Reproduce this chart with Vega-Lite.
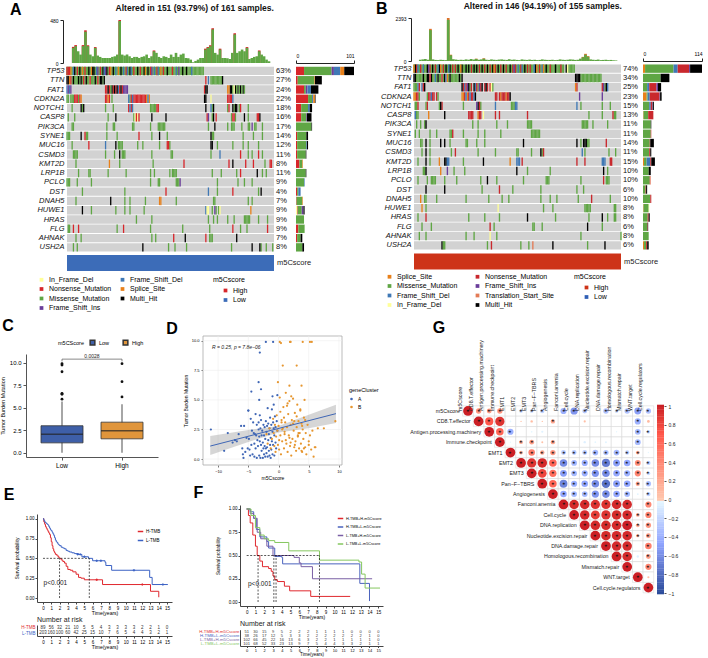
{"$schema":"https://vega.github.io/schema/vega-lite/v6.json","width":708,"height":658,"padding":0,"background":"white",
"config":{"font":"Liberation Sans","view":{"stroke":null},"axis":{"grid":false}},
"resolve":{"scale":{"x":"independent","y":"independent","color":"independent","size":"independent"},"axis":{"x":"independent","y":"independent"}},
"datasets":{
"genesA":[{"g":"TP53","a":0,"b":161,"p":"63%"},{"g":"TTN","a":0,"b":161,"p":"27%"},{"g":"FAT1","a":0,"b":161,"p":"24%"},{"g":"CDKN2A","a":0,"b":161,"p":"22%"},{"g":"NOTCH1","a":0,"b":161,"p":"18%"},{"g":"CASP8","a":0,"b":161,"p":"16%"},{"g":"PIK3CA","a":0,"b":161,"p":"17%"},{"g":"SYNE1","a":0,"b":161,"p":"14%"},{"g":"MUC16","a":0,"b":161,"p":"12%"},{"g":"CSMD3","a":0,"b":161,"p":"11%"},{"g":"KMT2D","a":0,"b":161,"p":"8%"},{"g":"LRP1B","a":0,"b":161,"p":"11%"},{"g":"PCLO","a":0,"b":161,"p":"9%"},{"g":"DST","a":0,"b":161,"p":"4%"},{"g":"DNAH5","a":0,"b":161,"p":"7%"},{"g":"HUWE1","a":0,"b":161,"p":"9%"},{"g":"HRAS","a":0,"b":161,"p":"9%"},{"g":"FLG","a":0,"b":161,"p":"9%"},{"g":"AHNAK","a":0,"b":161,"p":"7%"},{"g":"USH2A","a":0,"b":161,"p":"8%"}],
"genesB":[{"g":"TP53","a":0,"b":155,"p":"74%"},{"g":"TTN","a":0,"b":155,"p":"34%"},{"g":"FAT1","a":0,"b":155,"p":"25%"},{"g":"CDKN2A","a":0,"b":155,"p":"23%"},{"g":"NOTCH1","a":0,"b":155,"p":"15%"},{"g":"CASP8","a":0,"b":155,"p":"13%"},{"g":"PIK3CA","a":0,"b":155,"p":"11%"},{"g":"SYNE1","a":0,"b":155,"p":"11%"},{"g":"MUC16","a":0,"b":155,"p":"14%"},{"g":"CSMD3","a":0,"b":155,"p":"11%"},{"g":"KMT2D","a":0,"b":155,"p":"15%"},{"g":"LRP1B","a":0,"b":155,"p":"10%"},{"g":"PCLO","a":0,"b":155,"p":"10%"},{"g":"DST","a":0,"b":155,"p":"6%"},{"g":"DNAH5","a":0,"b":155,"p":"10%"},{"g":"HUWE1","a":0,"b":155,"p":"8%"},{"g":"HRAS","a":0,"b":155,"p":"8%"},{"g":"FLG","a":0,"b":155,"p":"6%"},{"g":"AHNAK","a":0,"b":155,"p":"8%"},{"g":"USH2A","a":0,"b":155,"p":"6%"}],
"oncoA":[
{"g":"TP53","t":"Missense_Mutation","s":[0,1,2,3,4,5,6,7,8,9,10,11,12,13,14,15,16,17,18,19,20,21,22,23,24,25,26,27,28,29,30,31,32,33,34,35,36,37,38,39,40,41,42,43,44,45,46,47,48,49,50,51,52,53,54,55,56,57,58,59,60,61,62,63,64,65,66,67,68,69,70,71,72,73,74,75,76,77,78,79,80,81,82,83,84,85,86,87,88,89,90,91,92,93,94,95,96,97,98,99,100,101,102,103,104,105,106]},
{"g":"TP53","t":"Nonsense_Mutation","s":[0,1,2,8,14,26,33,46,52,57,65,70,75,82]},
{"g":"TP53","t":"Multi_Hit","s":[6,10,17,20,21,28,31,36,42,49,55,60,63,78,90,93]},
{"g":"TP53","t":"Frame_Shift_Del","s":[5,23,29,38,44,47,50,68,71,85,97]},
{"g":"TP53","t":"Splice_Site","s":[3,12,19,34,40,61,73]},
{"g":"TP53","t":"Frame_Shift_Ins","s":[24,30,66,87]},
{"g":"TTN","t":"Missense_Mutation","s":[4,6,7,8,10,12,14,16,17,19,20,21,23,25,28,112,113,114,115,116,117,118,119,120]},
{"g":"TTN","t":"Nonsense_Mutation","s":[3,13,18,24,108]},
{"g":"TTN","t":"Multi_Hit","s":[0,1,5,9,11,15,22,26,27,29,121]},
{"g":"TTN","t":"Splice_Site","s":[2]},
{"g":"TTN","t":"Frame_Shift_Del","s":[110]},
{"g":"FAT1","t":"Frame_Shift_Del","s":[0,2,40]},
{"g":"FAT1","t":"Frame_Shift_Ins","s":[1,3,44,45,46,47]},
{"g":"FAT1","t":"Nonsense_Mutation","s":[30,31,33,36,38,41,43,107]},
{"g":"FAT1","t":"Multi_Hit","s":[32,35,37,39,42,108,109,127,128,131,133,135,137]},
{"g":"FAT1","t":"Missense_Mutation","s":[34,129,132,134,136,138]},
{"g":"FAT1","t":"Splice_Site","s":[125,126]},
{"g":"FAT1","t":"In_Frame_Del","s":[130]},
{"g":"CDKN2A","t":"Missense_Mutation","s":[0,1,3,4,5,9,35,49]},
{"g":"CDKN2A","t":"Nonsense_Mutation","s":[6,7,8,10,30,31,33,50,52,53,54,55,56,57,58,59,60,61,125,126,127,128]},
{"g":"CDKN2A","t":"Splice_Site","s":[11,32,62,64]},
{"g":"CDKN2A","t":"Frame_Shift_Del","s":[48,51,63,129]},
{"g":"CDKN2A","t":"Multi_Hit","s":[107,108]},
{"g":"CDKN2A","t":"In_Frame_Del","s":[112]},
{"g":"NOTCH1","t":"Missense_Mutation","s":[4,12,30,36,65,66,67,68,69,113,125,130,134,141]},
{"g":"NOTCH1","t":"Multi_Hit","s":[11,13,108,114,129,131,132]},
{"g":"NOTCH1","t":"Nonsense_Mutation","s":[48,50,70,71,126,135]},
{"g":"NOTCH1","t":"Frame_Shift_Del","s":[49,51,112]},
{"g":"CASP8","t":"Missense_Mutation","s":[1,6,32,52,113,128,131,141]},
{"g":"CASP8","t":"Multi_Hit","s":[38,66,77,114,138,150]},
{"g":"CASP8","t":"In_Frame_Del","s":[53,55]},
{"g":"CASP8","t":"Nonsense_Mutation","s":[54,56,109,116,129,130,148,149]},
{"g":"CASP8","t":"Frame_Shift_Ins","s":[110]},
{"g":"PIK3CA","t":"Missense_Mutation","s":[4,5,31,36,37,51,52,65,71,72,73,74,75,76,110,125,128,129,130,136,141,142,146,147,152]},
{"g":"PIK3CA","t":"Multi_Hit","s":[115]},
{"g":"PIK3CA","t":"Frame_Shift_Ins","s":[144]},
{"g":"SYNE1","t":"Missense_Mutation","s":[0,1,2,15,16,31,39,66,78,113,114,137,145,152]},
{"g":"SYNE1","t":"Multi_Hit","s":[11,72,112]},
{"g":"SYNE1","t":"Nonsense_Mutation","s":[14,56]},
{"g":"MUC16","t":"Missense_Mutation","s":[4,40,41,42,43,55,59,72,80,117,129,137,141,149]},
{"g":"MUC16","t":"Nonsense_Mutation","s":[17,78,79]},
{"g":"MUC16","t":"Frame_Shift_Del","s":[30]},
{"g":"MUC16","t":"Multi_Hit","s":[38,112,113]},
{"g":"CSMD3","t":"Missense_Mutation","s":[5,6,7,8,30,37,43,44,45,66,81,82,112,141,144,152]},
{"g":"CSMD3","t":"Multi_Hit","s":[41]},
{"g":"CSMD3","t":"Frame_Shift_Del","s":[119]},
{"g":"CSMD3","t":"Nonsense_Mutation","s":[135,149]},
{"g":"KMT2D","t":"Missense_Mutation","s":[7,41,67,154]},
{"g":"KMT2D","t":"Splice_Site","s":[33]},
{"g":"KMT2D","t":"Nonsense_Mutation","s":[91,126,139,145,158,159]},
{"g":"KMT2D","t":"Multi_Hit","s":[129]},
{"g":"LRP1B","t":"Missense_Mutation","s":[9,17,18,32,46,65,68,80,82,83,84,85,113,120,132,152,155]},
{"g":"LRP1B","t":"Nonsense_Mutation","s":[135]},
{"g":"LRP1B","t":"Multi_Hit","s":[148]},
{"g":"PCLO","t":"Missense_Mutation","s":[0,1,2,8,19,65,71,72,85,86,87,117,133,138,144]},
{"g":"PCLO","t":"Frame_Shift_Ins","s":[88]},
{"g":"DST","t":"Missense_Mutation","s":[12,45,117,149]},
{"g":"DST","t":"Nonsense_Mutation","s":[77,129]},
{"g":"DST","t":"Frame_Shift_Del","s":[110]},
{"g":"DST","t":"Multi_Hit","s":[151]},
{"g":"DNAH5","t":"Missense_Mutation","s":[7,45,49,61,85,114,115,141,144]},
{"g":"DNAH5","t":"Multi_Hit","s":[34]},
{"g":"DNAH5","t":"Splice_Site","s":[72,73]},
{"g":"HUWE1","t":"Multi_Hit","s":[12]},
{"g":"HUWE1","t":"Missense_Mutation","s":[19,38,45,49,60,113,116,118]},
{"g":"HUWE1","t":"Frame_Shift_Del","s":[108]},
{"g":"HUWE1","t":"In_Frame_Del","s":[109,110,119]},
{"g":"HUWE1","t":"Frame_Shift_Ins","s":[115]},
{"g":"HUWE1","t":"Splice_Site","s":[143]},
{"g":"HRAS","t":"Missense_Mutation","s":[54,66,110,114,117,125,130,138,139,140,141,142,149,156]},
{"g":"FLG","t":"Missense_Mutation","s":[1,2,39,65,90,111,135,140]},
{"g":"FLG","t":"Nonsense_Mutation","s":[5,9,44,129,156]},
{"g":"AHNAK","t":"Missense_Mutation","s":[7,11,66,69,111,112,113]},
{"g":"AHNAK","t":"Nonsense_Mutation","s":[83,108]},
{"g":"AHNAK","t":"Multi_Hit","s":[92,132]},
{"g":"USH2A","t":"Missense_Mutation","s":[5,8,79,84,93,128,151,155,160]},
{"g":"USH2A","t":"Multi_Hit","s":[59,144,150]}
],
"barsA":[
{"g":"TP53","t":[2,3,4,5,6,7],"n":[14,48,4,11,7,17]},
{"g":"TTN","t":[2,3,6,7],"n":[3,29,1,12]},
{"g":"FAT1","t":[2,3,4,5,7],"n":[14,3,3,6,13]},
{"g":"CDKN2A","t":[2,3,5,6,7],"n":[21,7,2,3,1]},
{"g":"NOTCH1","t":[2,3,5,7],"n":[9,12,3,4]},
{"g":"CASP8","t":[2,3,4,7],"n":[9,9,1,8]},
{"g":"PIK3CA","t":[3,7],"n":[27,1]},
{"g":"SYNE1","t":[2,3,7],"n":[2,16,3]},
{"g":"MUC16","t":[2,3,5,7],"n":[2,16,1,2]},
{"g":"CSMD3","t":[2,3,7],"n":[2,15,1]},
{"g":"KMT2D","t":[2,3,6],"n":[6,5,1]},
{"g":"LRP1B","t":[3,7],"n":[17,1]},
{"g":"PCLO","t":[3,5],"n":[14,1]},
{"g":"DST","t":[2,3,5],"n":[2,2,4]},
{"g":"DNAH5","t":[2,3,6],"n":[1,10,1]},
{"g":"HUWE1","t":[1,2,3,4,7],"n":[2,1,7,3,2]},
{"g":"HRAS","t":[3],"n":[14]},
{"g":"FLG","t":[2,3],"n":[4,11]},
{"g":"AHNAK","t":[2,3,7],"n":[2,6,3]},
{"g":"USH2A","t":[3,7],"n":[11,3]}
],
"oncoB":[
{"g":"TP53","t":"Missense_Mutation","s":[0,1,2,3,4,5,6,7,8,9,10,11,12,13,14,15,16,17,18,19,20,21,22,23,24,25,26,27,28,29,30,31,32,33,34,35,36,37,38,39,40,41,42,43,44,45,46,47,48,49,50,51,52,53,54,55,56,57,58,59,60,61,62,63,64,65,66,67,68,69,70,71,72,73,74,75,76,77,78,79,80,81,82,83,84,85,86,87,88,89,90,91,92,93,94,95,96,97,98,99,100,101,102,103,104,105,106,107,108,109,110,111,112,116,117,118,119,120]},
{"g":"TP53","t":"Multi_Hit","s":[1,10,14,19,24,27,33,36,39,41,45,47,51,55,59,63,67,72,83,91,99,106,114]},
{"g":"TP53","t":"Nonsense_Mutation","s":[2,5,12,16,22,29,31,43,49,53,57,61,65,69,74,76,80,85,87,94,102,110]},
{"g":"TP53","t":"Frame_Shift_Del","s":[3,7,18,26,78,81,90,96]},
{"g":"TP53","t":"Splice_Site","s":[0,20,35,60,92,97]},
{"g":"TP53","t":"Frame_Shift_Ins","s":[11,75]},
{"g":"TP53","t":"In_Frame_Del","s":[115]},
{"g":"TTN","t":"Missense_Mutation","s":[2,3,4,5,6,8,9,14,15,17,19,20,22,26,28,29,30,31,32,33,35,125,126,127,128,129,130,131,132,133,134,135,136,137,138,139,140]},
{"g":"TTN","t":"Multi_Hit","s":[0,1,7,10,11,13,18,23,27,34,36,121,122,123,124]},
{"g":"TTN","t":"Nonsense_Mutation","s":[12,21]},
{"g":"TTN","t":"Frame_Shift_Del","s":[16,24]},
{"g":"TTN","t":"Splice_Site","s":[25]},
{"g":"FAT1","t":"Missense_Mutation","s":[0,1,2,42,48,59,143]},
{"g":"FAT1","t":"Frame_Shift_Del","s":[3,6,38,46,145]},
{"g":"FAT1","t":"Nonsense_Mutation","s":[4,7,37,39,43,47,50,53,55,57,122,141]},
{"g":"FAT1","t":"Multi_Hit","s":[8,36,41,45,51,54,144]},
{"g":"FAT1","t":"Frame_Shift_Ins","s":[40,49,142]},
{"g":"FAT1","t":"In_Frame_Del","s":[58]},
{"g":"FAT1","t":"Splice_Site","s":[121]},
{"g":"CDKN2A","t":"Splice_Site","s":[0,1,36,37,40,65,69]},
{"g":"CDKN2A","t":"Nonsense_Mutation","s":[2,3,11,12,14,15,17,38,41,43,44,61,62,64,66,67,68,70,71]},
{"g":"CDKN2A","t":"Missense_Mutation","s":[4,10,18]},
{"g":"CDKN2A","t":"Frame_Shift_Del","s":[13,39,42,45]},
{"g":"CDKN2A","t":"Frame_Shift_Ins","s":[124,141]},
{"g":"CDKN2A","t":"Multi_Hit","s":[46,72]},
{"g":"NOTCH1","t":"Missense_Mutation","s":[1,2,9,19,37,50,73,74,75,125,141,147]},
{"g":"NOTCH1","t":"Nonsense_Mutation","s":[3,10,21,49]},
{"g":"NOTCH1","t":"Multi_Hit","s":[20,48]},
{"g":"NOTCH1","t":"Frame_Shift_Ins","s":[47]},
{"g":"NOTCH1","t":"Frame_Shift_Del","s":[61,76,77,122]},
{"g":"CASP8","t":"Frame_Shift_Del","s":[1]},
{"g":"CASP8","t":"Missense_Mutation","s":[2,3,131,141,150,151]},
{"g":"CASP8","t":"Splice_Site","s":[11,48]},
{"g":"CASP8","t":"Multi_Hit","s":[23]},
{"g":"CASP8","t":"Nonsense_Mutation","s":[41,42,43,44,49,50,61,64,85,149]},
{"g":"CASP8","t":"In_Frame_Del","s":[52]},
{"g":"PIK3CA","t":"Missense_Mutation","s":[2,5,8,44,48,62,70,85,86,87,88,126,127,128,129,130,134,145]},
{"g":"PIK3CA","t":"Multi_Hit","s":[9]},
{"g":"SYNE1","t":"Missense_Mutation","s":[1,4,12,17,27,28,37,48,53,65,88,89,90,91,92,93,94]},
{"g":"SYNE1","t":"Nonsense_Mutation","s":[29]},
{"g":"MUC16","t":"Missense_Mutation","s":[5,6,12,27,39,40,47,53,125,130,131]},
{"g":"MUC16","t":"Multi_Hit","s":[9,20,23,82,122,127,128,129]},
{"g":"MUC16","t":"Nonsense_Mutation","s":[144]},
{"g":"CSMD3","t":"Missense_Mutation","s":[6,12,28,48,61,77,78,88,96,128,146,151]},
{"g":"CSMD3","t":"Multi_Hit","s":[9,95]},
{"g":"CSMD3","t":"Nonsense_Mutation","s":[31,97]},
{"g":"CSMD3","t":"Frame_Shift_Del","s":[126]},
{"g":"KMT2D","t":"Missense_Mutation","s":[3,12,37]},
{"g":"KMT2D","t":"Multi_Hit","s":[9,23,24,52]},
{"g":"KMT2D","t":"Splice_Site","s":[19,72]},
{"g":"KMT2D","t":"Frame_Shift_Del","s":[25,26,77,78,79,141,142,143]},
{"g":"KMT2D","t":"Nonsense_Mutation","s":[81,122,128,147,148]},
{"g":"LRP1B","t":"Missense_Mutation","s":[7,8,30,38,85,102,145]},
{"g":"LRP1B","t":"Multi_Hit","s":[9,77,142]},
{"g":"LRP1B","t":"Splice_Site","s":[20]},
{"g":"LRP1B","t":"Frame_Shift_Ins","s":[25]},
{"g":"PCLO","t":"Missense_Mutation","s":[3,10,13,14,15,16,23,32,50,62,82,99,100,101,125,144,145,146]},
{"g":"PCLO","t":"Multi_Hit","s":[55]},
{"g":"PCLO","t":"Nonsense_Mutation","s":[142]},
{"g":"DST","t":"Multi_Hit","s":[9,23]},
{"g":"DST","t":"Missense_Mutation","s":[51,74,95,122,127]},
{"g":"DST","t":"Nonsense_Mutation","s":[64]},
{"g":"DNAH5","t":"Splice_Site","s":[5]},
{"g":"DNAH5","t":"Missense_Mutation","s":[8,9,17,39,56,66,71,95,102,107,123,147]},
{"g":"DNAH5","t":"Nonsense_Mutation","s":[133]},
{"g":"HUWE1","t":"Splice_Site","s":[6]},
{"g":"HUWE1","t":"Missense_Mutation","s":[9,97,104,128,129,130,131,132,150,151]},
{"g":"HUWE1","t":"In_Frame_Del","s":[63]},
{"g":"HRAS","t":"Missense_Mutation","s":[3,41,53,64,106,131,145,150,151]},
{"g":"HRAS","t":"Nonsense_Mutation","s":[9]},
{"g":"HRAS","t":"Multi_Hit","s":[85,141]},
{"g":"FLG","t":"Missense_Mutation","s":[6,13,60,89,90,96,141]},
{"g":"FLG","t":"Nonsense_Mutation","s":[57]},
{"g":"FLG","t":"Multi_Hit","s":[130]},
{"g":"AHNAK","t":"Missense_Mutation","s":[4,9,39,45,62,125,155]},
{"g":"AHNAK","t":"In_Frame_Del","s":[57]},
{"g":"USH2A","t":"Multi_Hit","s":[21,104,143]},
{"g":"USH2A","t":"Missense_Mutation","s":[22,23,55,80,86,130]},
{"g":"USH2A","t":"Nonsense_Mutation","s":[58]},
{"g":"USH2A","t":"Translation_Start_Site","s":[89]}
],
"barsB":[
{"g":"TP53","t":[1,2,3,5,6,8],"n":[4,55,8,22,2,23]},
{"g":"TTN","t":[2,8],"n":[34,17]},
{"g":"FAT1","t":[2,3,5,6,8],"n":[8,4,14,3,6]},
{"g":"CDKN2A","t":[1,2,3,5,6,8],"n":[7,2,4,19,1,3]},
{"g":"NOTCH1","t":[2,3,5,6,8],"n":[12,3,3,1,2]},
{"g":"CASP8","t":[1,2,5],"n":[1,9,10]},
{"g":"PIK3CA","t":[2,8],"n":[15,1]},
{"g":"SYNE1","t":[2,5],"n":[15,1]},
{"g":"MUC16","t":[2,5,8],"n":[13,1,7]},
{"g":"CSMD3","t":[2,5,8],"n":[12,2,2]},
{"g":"KMT2D","t":[1,2,3,5,8],"n":[2,5,7,2,7]},
{"g":"LRP1B","t":[2,8],"n":[11,4]},
{"g":"PCLO","t":[2,5,7],"n":[13,1,1]},
{"g":"DST","t":[2,5,8],"n":[5,1,2]},
{"g":"DNAH5","t":[2,5],"n":[14,2]},
{"g":"HUWE1","t":[1,2,4],"n":[1,10,1]},
{"g":"HRAS","t":[2,5,8],"n":[9,2,2]},
{"g":"FLG","t":[2,5,8],"n":[8,1,1]},
{"g":"AHNAK","t":[2],"n":[11]},
{"g":"USH2A","t":[1,2,5,8],"n":[2,4,2,3]}
],
"corr":[
{"r":0,"c":[0,1,2,3,4,5,6,7,8,9,10,11,12,13,14,15,16,17],"v":[1,0.3,0.25,0.3,0,-0.15,-0.15,-0.2,0,-0.4,-0.55,-0.25,0,-0.3,-0.15,-0.3,-0.5,-0.3]},
{"r":1,"c":[1,2,3,4,5,6,7,8,9,10,11,12,13,14,15,16,17],"v":[1,0.7,0.9,-0.03,0.02,0.06,0.02,0.2,0,0,0.05,0,0,0,0,-0.4,0.08]},
{"r":2,"c":[2,3,4,5,6,7,8,9,10,11,12,13,14,15,16,17],"v":[1,0.6,-0.4,0,-0.03,-0.05,0,0,0,0,0,0,-0.02,0,-0.35,-0.15]},
{"r":3,"c":[3,4,5,6,7,8,9,10,11,12,13,14,15,16,17],"v":[1,-0.02,0.15,0.25,0.04,0.2,0,0,-0.06,-0.03,-0.04,0,0,-0.35,0]},
{"r":4,"c":[4,5,6,7,8,9,10,11,12,13,14,15,16,17],"v":[1,0.15,0.45,0.2,0.3,-0.25,-0.25,-0.25,-0.35,-0.3,-0.35,-0.2,0.15,-0.02]},
{"r":5,"c":[5,6,7,8,9,10,11,12,13,14,15,16,17],"v":[1,0.9,0.95,0.6,-0.6,-0.35,-0.4,-0.6,-0.7,-0.5,-0.45,0.35,-0.2]},
{"r":6,"c":[6,7,8,9,10,11,12,13,14,15,16,17],"v":[1,0.8,0.55,-0.5,-0.35,-0.4,-0.55,-0.6,-0.45,-0.4,0.4,-0.15]},
{"r":7,"c":[7,8,9,10,11,12,13,14,15,16,17],"v":[1,0.6,-0.65,-0.4,-0.45,-0.6,-0.75,-0.5,-0.45,0.2,-0.3]},
{"r":8,"c":[8,9,10,11,12,13,14,15,16,17],"v":[1,-0.45,-0.35,-0.35,-0.55,-0.6,-0.45,-0.35,-0.04,-0.2]},
{"r":9,"c":[9,10,11,12,13,14,15,16,17],"v":[1,0.95,0.95,0.9,0.9,0.95,0.95,0,0.4]},
{"r":10,"c":[10,11,12,13,14,15,16,17],"v":[1,0.95,0.85,0.9,0.95,0.95,0.15,0.4]},
{"r":11,"c":[11,12,13,14,15,16,17],"v":[1,0.95,0.95,0.95,1,0.15,0.3]},
{"r":12,"c":[12,13,14,15,16,17],"v":[1,0.95,0.95,0.95,0.12,0.25]},
{"r":13,"c":[13,14,15,16,17],"v":[1,0.95,0.95,0,0.45]},
{"r":14,"c":[14,15,16,17],"v":[1,0.95,-0.06,0.25]},
{"r":15,"c":[15,16,17],"v":[1,0,0.4]},
{"r":16,"c":[16,17],"v":[1,0.05]},
{"r":17,"c":[17],"v":[1]}
],
"corrNames":[{"i":0,"n":"m5Cscore"},{"i":1,"n":"CD8.T.effector"},{"i":2,"n":"Antigen.processing.machinery"},{"i":3,"n":"Immune.checkpoint"},{"i":4,"n":"EMT1"},{"i":5,"n":"EMT2"},{"i":6,"n":"EMT3"},{"i":7,"n":"Pan−F−TBRS"},{"i":8,"n":"Angiogenesis"},{"i":9,"n":"Fanconi.anemia"},{"i":10,"n":"Cell.cycle"},{"i":11,"n":"DNA.replication"},{"i":12,"n":"Nucleotide.excision.repair"},{"i":13,"n":"DNA.damage.repair"},{"i":14,"n":"Homologous.recombination"},{"i":15,"n":"Mismatch.repair"},{"i":16,"n":"WNT.target"},{"i":17,"n":"Cell.cycle.regulators"}]
},
"layer":[
{"layer":[
 {"data":{"values":[{"s":1,"t":180},{"s":3,"t":200},{"s":9,"t":200},{"s":11,"t":365},{"s":13,"t":198},{"s":19,"t":178},{"s":39,"t":480},{"s":67,"t":140},{"s":109,"t":160},{"s":111,"t":178},{"s":113,"t":198},{"s":115,"t":388},{"s":121,"t":160},{"s":133,"t":332},{"s":143,"t":178},{"s":153,"t":140}]},
  "mark":{"type":"bar","size":2.6,"color":"#D7262B"},"encoding":{"x":{"field":"s","type":"quantitative","scale":{"domain":[0,161],"nice":false,"range":[67,274]},"axis":null},"y":{"field":"t","type":"quantitative","scale":{"domain":[0,480],"nice":false,"range":[62,19]},"axis":{"orient":"left","offset":-63,"values":[0,480],"title":null,"labelFontSize":5,"tickSize":3,"domainColor":"#222","tickColor":"#222"}}}},
 {"data":{"values":[{"s":[1,3,5,7,9,11,13,15,17,19,21,23,25,27,29,31,33,35,37,39,41,43,45,47,49,51,53,55,57,59,61,63,65,67,69,71,73,75,77,79,81,83,85,87,89,91,93,95,97,99,101,103,105,107,109,111,113,115,117,119,121,123,125,127,129,131,133,135,137,139,141,143,145,147,149,151,153,155,157,159,161],"v":[169,188,131,94,188,349,188,94,75,169,83,68,56,56,56,56,68,75,94,469,94,83,94,75,56,68,68,56,68,75,94,56,75,131,113,68,56,75,68,56,94,68,113,68,94,105,56,53,38,8,23,38,56,56,150,169,188,375,113,94,150,56,56,53,45,113,319,113,131,150,131,169,45,56,68,75,131,94,75,38,19]}]},
  "transform":[{"flatten":["s","v"]}],
  "mark":{"type":"bar","size":2.6,"color":"#5FA644"},"encoding":{"x":{"field":"s","type":"quantitative"},"y":{"field":"v","type":"quantitative"}}},
 {"data":{"values":[{"l":"Altered in 151 (93.79%) of 161 samples."}]},"mark":{"type":"text","fontSize":8.5,"fontWeight":"bold","color":"#111"},"encoding":{"x":{"datum":100.3},"y":{"datum":614},"text":{"field":"l"}}},
 {"data":{"values":[{"l":"A"}]},"mark":{"type":"text","fontSize":16,"fontWeight":"bold","color":"#000"},"encoding":{"x":{"datum":-45.9},"y":{"datum":592},"text":{"field":"l"}}}
]},
{"layer":[
 {"data":{"name":"genesA"},"mark":{"type":"bar","color":"#D2D2D2"},"encoding":{"y":{"field":"g","type":"nominal","sort":null,"scale":{"range":[65.3,251],"paddingInner":0.1,"paddingOuter":0.05},"axis":{"orient":"left","offset":-67,"title":null,"labelFontStyle":"italic","labelFontSize":7.5,"domain":false,"ticks":false,"labelPadding":3,"labelColor":"#111"}},"x":{"field":"a","type":"quantitative","scale":{"domain":[0,161],"nice":false,"range":[67,274]},"axis":null},"x2":{"field":"b"}}},
 {"data":{"name":"oncoA"},"transform":[{"flatten":["s"]}],"mark":{"type":"tick","thickness":1.3,"size":8.4,"opacity":1},"encoding":{"x":{"field":"s","type":"quantitative"},"y":{"field":"g","type":"nominal","sort":null},"color":{"field":"t","type":"nominal","scale":{"domain":["In_Frame_Del","Nonsense_Mutation","Missense_Mutation","Frame_Shift_Ins","Frame_Shift_Del","Splice_Site","Multi_Hit"],"range":["#FFFF99","#D7262B","#5FA644","#6A3D9A","#3F78B5","#E8801A","#000000"]},"legend":{"orient":"none","legendX":38,"legendY":275,"title":null,"columns":2,"direction":"vertical","symbolType":"square","symbolSize":14,"labelFontSize":7,"labelOffset":4,"rowPadding":1.5,"columnPadding":7,"symbolOpacity":1}}}},
 {"data":{"name":"genesA"},"mark":{"type":"text","align":"left","dx":2,"fontSize":7.5,"color":"#111"},"encoding":{"x":{"field":"b","type":"quantitative"},"y":{"field":"g","type":"nominal","sort":null},"text":{"field":"p"}}}
]},
{"data":{"name":"barsA"},"transform":[{"flatten":["t","n"]}],"mark":{"type":"bar"},"encoding":{"y":{"field":"g","type":"nominal","sort":["TP53","TTN","FAT1","CDKN2A","NOTCH1","CASP8","PIK3CA","SYNE1","MUC16","CSMD3","KMT2D","LRP1B","PCLO","DST","DNAH5","HUWE1","HRAS","FLG","AHNAK","USH2A"],"scale":{"range":[65.3,251],"paddingInner":0.1,"paddingOuter":0.05},"axis":null},"x":{"field":"n","type":"quantitative","stack":"zero","scale":{"domain":[0,101],"nice":false,"range":[296,354]},"axis":{"orient":"top","offset":-62,"values":[0,101],"title":null,"labelFontSize":5,"tickSize":3,"domainColor":"#222","tickColor":"#222"}},"color":{"field":"t","type":"ordinal","scale":{"domain":[1,2,3,4,5,6,7],"range":["#FFFF99","#D7262B","#5FA644","#6A3D9A","#3F78B5","#E8801A","#000000"]},"legend":null},"order":{"field":"t","type":"quantitative"}}},
{"layer":[
 {"data":{"values":[{"a":0,"b":161,"m":"Low","z":"m5Cscore"}]},"mark":{"type":"bar"},"encoding":{"y":{"field":"z","type":"nominal","scale":{"range":[254,270],"paddingInner":0,"paddingOuter":0},"axis":null},"x":{"field":"a","type":"quantitative","scale":{"domain":[0,161],"nice":false,"range":[67,274]},"axis":null},"x2":{"field":"b"},"color":{"field":"m","type":"nominal","scale":{"domain":["High","Low"],"range":["#D7262B","#3C6CB8"]},"legend":{"orient":"none","legendX":213,"legendY":275,"title":"m5Cscore","titleFontSize":7,"titleFontWeight":"normal","symbolType":"square","symbolSize":14,"labelFontSize":7,"symbolOffset":9,"labelOffset":4,"rowPadding":1.5,"titlePadding":4}}}},
 {"data":{"values":[{"b":161,"z":"m5Cscore"}]},"mark":{"type":"text","align":"left","dx":3,"fontSize":7.5,"color":"#222"},"encoding":{"x":{"field":"b","type":"quantitative"},"y":{"field":"z","type":"nominal"},"text":{"field":"z"}}}
]},
{"layer":[
 {"data":{"values":[{"s":9,"t":1790},{"s":23,"t":2393},{"s":25,"t":350},{"s":131,"t":400},{"s":133,"t":270},{"s":129,"t":230},{"s":51,"t":150},{"s":45,"t":130}]},
  "mark":{"type":"bar","size":2.7,"color":"#E0702A"},"encoding":{"x":{"field":"s","type":"quantitative","scale":{"domain":[0,155],"nice":false,"range":[414,621]},"axis":null},"y":{"field":"t","type":"quantitative","scale":{"domain":[0,2393],"nice":false,"range":[60,17]},"axis":{"orient":"left","offset":-411,"values":[0,2393],"format":"d","title":null,"labelFontSize":5,"tickSize":3,"domainColor":"#222","tickColor":"#222"}}}},
 {"data":{"values":[{"s":[1,3,5,7,9,11,13,15,17,19,21,23,25,27,29,31,33,35,37,39,41,43,45,47,49,51,53,55,57,59,61,63,65,67,69,71,73,75,77,79,81,83,85,87,89,91,93,95,97,99,101,103,105,107,109,111,113,115,117,119,121,123,125,127,129,131,133,135,137,139,141,143,145,147,149,151,153,155],"v":[70,90,110,70,1720,90,60,50,70,60,50,2290,320,100,80,60,70,60,90,70,110,80,115,70,90,130,70,60,90,70,60,80,90,70,60,100,70,80,60,50,90,70,60,80,60,70,50,60,90,70,60,60,70,50,60,90,70,60,70,90,80,60,70,130,210,350,240,90,70,60,80,50,60,70,50,60,40,30]}]},
  "transform":[{"flatten":["s","v"]}],
  "mark":{"type":"bar","size":2.7,"color":"#5FA644"},"encoding":{"x":{"field":"s","type":"quantitative"},"y":{"field":"v","type":"quantitative"}}},
 {"data":{"values":[{"l":"Altered in 146 (94.19%) of 155 samples."}]},"mark":{"type":"text","fontSize":8.5,"fontWeight":"bold","color":"#111"},"encoding":{"x":{"datum":97.4},"y":{"datum":3061},"text":{"field":"l"}}},
 {"data":{"values":[{"l":"B"}]},"mark":{"type":"text","fontSize":16,"fontWeight":"bold","color":"#000"},"encoding":{"x":{"datum":-29.2},"y":{"datum":2894},"text":{"field":"l"}}}
]},
{"layer":[
 {"data":{"name":"genesB"},"mark":{"type":"bar","color":"#D2D2D2"},"encoding":{"y":{"field":"g","type":"nominal","sort":null,"scale":{"range":[63,249],"paddingInner":0.1,"paddingOuter":0.05},"axis":{"orient":"left","offset":-414,"title":null,"labelFontStyle":"italic","labelFontSize":7.5,"domain":false,"ticks":false,"labelPadding":3,"labelColor":"#111"}},"x":{"field":"a","type":"quantitative","scale":{"domain":[0,155],"nice":false,"range":[414,621]},"axis":null},"x2":{"field":"b"}}},
 {"data":{"name":"oncoB"},"transform":[{"flatten":["s"]}],"mark":{"type":"tick","thickness":1.35,"size":8.4,"opacity":1},"encoding":{"x":{"field":"s","type":"quantitative"},"y":{"field":"g","type":"nominal","sort":null},"color":{"field":"t","type":"nominal","scale":{"domain":["Splice_Site","Missense_Mutation","Frame_Shift_Del","In_Frame_Del","Nonsense_Mutation","Frame_Shift_Ins","Translation_Start_Site","Multi_Hit"],"range":["#E8801A","#5FA644","#3F78B5","#FFFF99","#C9282D","#6A3D9A","#E37B56","#000000"]},"legend":{"orient":"none","legendX":386,"legendY":272,"title":null,"columns":2,"direction":"vertical","symbolType":"square","symbolSize":14,"labelFontSize":7,"labelOffset":4,"rowPadding":1.5,"columnPadding":16,"symbolOpacity":1}}}},
 {"data":{"name":"genesB"},"mark":{"type":"text","align":"left","dx":2,"fontSize":7.5,"color":"#111"},"encoding":{"x":{"field":"b","type":"quantitative"},"y":{"field":"g","type":"nominal","sort":null},"text":{"field":"p"}}}
]},
{"data":{"name":"barsB"},"transform":[{"flatten":["t","n"]}],"mark":{"type":"bar"},"encoding":{"y":{"field":"g","type":"nominal","sort":["TP53","TTN","FAT1","CDKN2A","NOTCH1","CASP8","PIK3CA","SYNE1","MUC16","CSMD3","KMT2D","LRP1B","PCLO","DST","DNAH5","HUWE1","HRAS","FLG","AHNAK","USH2A"],"scale":{"range":[63,249],"paddingInner":0.1,"paddingOuter":0.05},"axis":null},"x":{"field":"n","type":"quantitative","stack":"zero","scale":{"domain":[0,114],"nice":false,"range":[643,702]},"axis":{"orient":"top","offset":-60,"values":[0,114],"title":null,"labelFontSize":5,"tickSize":3,"domainColor":"#222","tickColor":"#222"}},"color":{"field":"t","type":"ordinal","scale":{"domain":[1,2,3,4,5,6,7,8],"range":["#E8801A","#5FA644","#3F78B5","#FFFF99","#C9282D","#6A3D9A","#E37B56","#000000"]},"legend":null},"order":{"field":"t","type":"quantitative"}}},
{"layer":[
 {"data":{"values":[{"a":0,"b":155,"m":"High","z":"m5Cscore"}]},"mark":{"type":"bar"},"encoding":{"y":{"field":"z","type":"nominal","scale":{"range":[252.5,268.5],"paddingInner":0,"paddingOuter":0},"axis":null},"x":{"field":"a","type":"quantitative","scale":{"domain":[0,155],"nice":false,"range":[414,621]},"axis":null},"x2":{"field":"b"},"color":{"field":"m","type":"nominal","scale":{"domain":["High","Low"],"range":["#CD3318","#2F5FB5"]},"legend":{"orient":"none","legendX":574,"legendY":272,"title":"m5Cscore","titleFontSize":7,"titleFontWeight":"normal","symbolType":"square","symbolSize":14,"labelFontSize":7,"symbolOffset":9,"labelOffset":4,"rowPadding":1.5,"titlePadding":4}}}},
 {"data":{"values":[{"b":155,"z":"m5Cscore"}]},"mark":{"type":"text","align":"left","dx":3,"fontSize":7.5,"color":"#222"},"encoding":{"x":{"field":"b","type":"quantitative"},"y":{"field":"z","type":"nominal"},"text":{"field":"z"}}}
]},
{"layer":[
 {"data":{"values":[{"k":"Low","lo":0,"hi":5.7},{"k":"High","lo":0,"hi":5.4}]},"mark":{"type":"rule","color":"#888","strokeWidth":1.5},"encoding":{"x":{"field":"k","type":"nominal","scale":{"domain":["Low","High"],"range":[26,158],"paddingInner":0,"paddingOuter":0.1},"axis":{"orient":"bottom","offset":-202,"title":null,"labelAngle":0,"labelFontSize":6.5,"domainColor":"#555","tickColor":"#555","tickSize":3}},"y":{"field":"lo","type":"quantitative","scale":{"domain":[-0.47,10.97],"nice":false,"range":[456,353]},"axis":{"orient":"left","offset":-26,"title":"Tumor Burden Mutation","titleFontSize":5.5,"titleFontWeight":"normal","labelFontSize":6,"values":[0,2.5,5,7.5,10],"format":".1f","domainColor":"#555","tickColor":"#555","tickSize":3,"titlePadding":4}},"y2":{"field":"hi"}}},
 {"data":{"values":[{"k":"Low","q1":1.1,"q3":3},{"k":"High","q1":1.55,"q3":3.4}]},"mark":{"type":"bar","size":42,"stroke":"#333","strokeWidth":0.8},"encoding":{"x":{"field":"k","type":"nominal"},"y":{"field":"q1","type":"quantitative"},"y2":{"field":"q3"},"color":{"field":"k","type":"nominal","scale":{"domain":["Low","High"],"range":["#3E5FA8","#E0953B"]},"legend":{"orient":"none","legendX":58,"legendY":338,"direction":"horizontal","title":"m5CScore","titleOrient":"left","titleFontSize":5.5,"titleFontWeight":"normal","labelFontSize":5.5,"symbolType":"square","symbolSize":22,"symbolStrokeColor":"#333","labelOffset":3}}}},
 {"data":{"values":[{"k":"Low","m":2.05},{"k":"High","m":2.45}]},"mark":{"type":"tick","size":42,"thickness":1.4,"color":"#222"},"encoding":{"x":{"field":"k","type":"nominal"},"y":{"field":"m","type":"quantitative"}}},
 {"data":{"values":[{"k":"Low","o":5.95},{"k":"Low","o":6.5},{"k":"Low","o":6.6},{"k":"Low","o":9},{"k":"Low","o":9.75},{"k":"Low","o":9.9},{"k":"High","o":6.2},{"k":"High","o":7.9},{"k":"High","o":9.9}]},"mark":{"type":"point","filled":true,"size":8,"color":"#111","opacity":1},"encoding":{"x":{"field":"k","type":"nominal"},"y":{"field":"o","type":"quantitative"}}},
 {"data":{"values":[{"k":"Low","y":10.15,"o":1},{"k":"Low","y":10.4,"o":2},{"k":"High","y":10.4,"o":3},{"k":"High","y":10.15,"o":4}]},"mark":{"type":"line","color":"#555","strokeWidth":0.7},"encoding":{"x":{"field":"k","type":"nominal"},"y":{"field":"y","type":"quantitative"},"order":{"field":"o","type":"quantitative"}}},
 {"data":{"values":[{"k":"Low","y":10.75,"l":"0.0028"}]},"mark":{"type":"text","fontSize":5,"dx":30,"color":"#222"},"encoding":{"x":{"field":"k","type":"nominal"},"y":{"field":"y","type":"quantitative"},"text":{"field":"l"}}},
 {"data":{"values":[{"l":"C"}]},"mark":{"type":"text","fontSize":16,"fontWeight":"bold","color":"#000","dx":-54},"encoding":{"x":{"datum":"Low"},"y":{"datum":14.08},"text":{"field":"l"}}}
]},
{"layer":[
 {"data":{"values":[{"x":-12.5,"x2":10.5,"y":-0.5,"y2":10.4}]},"mark":{"type":"rect","fill":"white","stroke":"#aaa","strokeWidth":0.8},"encoding":{"x":{"field":"x","type":"quantitative","scale":{"domain":[-12.5,10.5],"nice":false,"range":[203,342]},"axis":{"orient":"bottom","offset":-194,"title":"m5Cscore","titleFontSize":5,"titleFontWeight":"normal","titlePadding":2,"labelFontSize":4,"values":[-10,-5,0,5,10],"domain":false,"tickColor":"#777","tickSize":2,"labelPadding":2}},"x2":{"field":"x2"},"y":{"field":"y","type":"quantitative","scale":{"domain":[-0.5,10.4],"nice":false,"range":[464,335]},"axis":{"orient":"left","offset":-203,"title":"Tumor Burden Mutation","titleFontSize":5,"titleFontWeight":"normal","titlePadding":3,"labelFontSize":4,"values":[0,2.5,5,7.5,10],"format":".1f","domain":false,"tickColor":"#777","tickSize":2,"labelPadding":2}},"y2":{"field":"y2"}}},
 {"data":{"values":[{"x":[-10,-5,0,5,10]}]},"transform":[{"flatten":["x"]}],"mark":{"type":"rule","color":"#eee","strokeWidth":0.6},"encoding":{"x":{"field":"x","type":"quantitative"},"y":{"datum":-0.5},"y2":{"datum":10.4}}},
 {"data":{"values":[{"y":[0,2.5,5,7.5,10]}]},"transform":[{"flatten":["y"]}],"mark":{"type":"rule","color":"#eee","strokeWidth":0.6},"encoding":{"y":{"field":"y","type":"quantitative"},"x":{"datum":-12.5},"x2":{"datum":10.5}}},
 {"data":{"values":[{"x":-11.3,"lo":0.35,"hi":1.95},{"x":-5,"lo":1.45,"hi":2.45},{"x":0,"lo":2.25,"hi":2.8},{"x":5,"lo":2.6,"hi":3.75},{"x":9.5,"lo":3.05,"hi":4.6}]},"mark":{"type":"area","color":"#999","opacity":0.4},"encoding":{"x":{"field":"x","type":"quantitative"},"y":{"field":"lo","type":"quantitative"},"y2":{"field":"hi"}}},
 {"data":{"values":[{"g":"A","x":[-11.2,-8.4,-9,-7.6,-7.2,-6.9,-6.6,-6.2,-6,-5.9,-5.8,-5.7,-5.5,-5.3,-5.1,-5,-4.9,-4.8,-4.7,-4.6,-4.5,-4.4,-4.3,-4.2,-4.1,-4,-4,-3.9,-3.8,-3.8,-3.7,-3.6,-3.6,-3.5,-3.4,-3.3,-3.3,-3.2,-3.2,-3.1,-3.1,-3,-3,-2.9,-2.9,-2.8,-2.8,-2.7,-2.6,-2.6,-2.5,-2.5,-2.4,-2.4,-2.3,-2.3,-2.2,-2.2,-2.1,-2.1,-2,-2,-1.9,-1.9,-1.8,-1.8,-1.7,-1.7,-1.6,-1.6,-1.5,-1.5,-1.4,-1.4,-1.3,-1.3,-1.2,-1.2,-1.1,-1.1,-1,-1,-0.9,-0.9,-0.8,-0.8,-0.7,-0.7,-0.6,-0.5,-0.5,-0.4,-0.3,-0.2,-2.1,-0.9,-3.1,-3.3,-2.9,-3.2,-5,-4.5,-1,-0.2],"y":[2.5,2.2,0.7,1.4,1.6,1.5,2.1,2.8,0.9,0.4,0.1,2.8,0.6,1.8,0.9,4.1,1.7,0.8,0.3,3.4,1.2,2.4,0.4,3.1,2.2,0.2,1.3,2.1,3.8,0.9,2,0.1,2.9,1.6,1.1,3.1,2.5,0.3,1.9,3.7,1.5,0.1,2.6,1.2,3.3,0.7,2,2.4,0.1,1.4,0.9,2.9,0.4,2,1.1,2.7,0.2,1.7,0.9,3.2,0.5,2.3,1,2.8,0.2,4.3,1.6,3,0.7,2.1,0.3,2.6,1.2,3.5,1.8,0.1,2.9,0.8,1.5,4.2,2.3,0.4,3.1,1.2,2.6,4.6,0.3,2,3.6,1.4,2.7,0.9,3.2,2.4,9.9,9.9,9,6.5,5.9,5,4.1,5.7,5.3,5.4]},{"g":"B","x":[0.2,0.4,1.9,2,4,5.2,5.5,0.7,3,-0.1,1.8,3.8,9.4,7.5,6.5,6.1,-2,-1.8,-1.5,-1.3,-1.1,-0.9,-0.8,-0.7,-0.6,-0.5,-0.4,-0.3,-0.2,-0.1,0,0.1,0.2,0.3,0.4,0.5,0.6,0.7,0.8,0.9,1,1.1,1.2,1.3,1.4,1.5,1.6,1.7,1.8,1.9,2,2.1,2.2,2.3,2.4,2.5,2.6,2.7,2.8,2.9,3,3.1,3.2,3.3,3.4,3.5,3.6,3.7,3.8,3.9,4,4.1,4.2,4.3,4.4,4.5,4.6,4.8,5,5.2,5.4,5.6,5.8,6,0.3,0.6,0.9,1.2,1.5,1.8,2.1,2.4,2.7,3,3.3,3.6,3.9,4.2,0.1,0.5,1,1.4,2,2.6,3.2,3.8,4.4,5],"y":[9.9,9.8,9.9,9.9,9.9,9.9,9.9,7.9,7.9,6.5,6.2,6.2,3.2,2.6,2.6,1,2.1,1.3,2.6,0.9,1.7,3.4,2.2,1.1,2.9,0.6,1.9,3.7,2.4,1.2,2.8,0.8,5.2,2,0.4,3.3,1.5,2.6,4.4,0.9,2.1,3.1,5.6,1.3,2.7,0.6,3.8,2,4.9,1.1,2.9,0.3,3.3,1.7,5.1,2.4,1,3.9,1.5,0.7,2.7,4.6,1.9,3.2,0.9,2.2,4.2,1.3,3,0.6,2.5,1.7,3.5,5,1,2.2,0.4,2.9,1.2,2,0.8,2.4,0.2,1,4,2.5,3.5,1.6,4.7,1.8,5.3,3,1.2,3.6,2.2,4.1,2.8,0.9,1.6,3.1,2.3,4.5,1.4,3.2,2,0.7,3.3,1.5]}]},"transform":[{"flatten":["x","y"]}],"mark":{"type":"point","filled":true,"size":5,"opacity":1},"encoding":{"x":{"field":"x","type":"quantitative"},"y":{"field":"y","type":"quantitative"},"color":{"field":"g","type":"nominal","scale":{"domain":["A","B"],"range":["#3F66B5","#E6962F"]},"legend":{"orient":"none","legendX":349,"legendY":387,"title":"geneCluster","titleFontSize":5.5,"titleFontWeight":"normal","labelFontSize":5,"symbolSize":7,"symbolType":"circle","titlePadding":3,"rowPadding":2}}}},
 {"data":{"values":[{"x":-11.3,"y":1.1},{"x":9.5,"y":3.84}]},"mark":{"type":"line","color":"#3F66B5","strokeWidth":1},"encoding":{"x":{"field":"x","type":"quantitative"},"y":{"field":"y","type":"quantitative"}}},
 {"data":{"values":[{"x":-11,"y":9.45,"l":"R = 0.25, p = 7.8e−06"}]},"mark":{"type":"text","align":"left","fontSize":5,"fontStyle":"italic","color":"#222"},"encoding":{"x":{"field":"x","type":"quantitative"},"y":{"field":"y","type":"quantitative"},"text":{"field":"l"}}},
 {"data":{"values":[{"l":"D"}]},"mark":{"type":"text","fontSize":16,"fontWeight":"bold","color":"#000"},"encoding":{"x":{"datum":-17.63},"y":{"datum":11},"text":{"field":"l"}}}
]},
{"layer":[
 {"data":{"values":[{"k":"H-TMB","t":[0,0.1,0.2,0.3,0.4,0.5,0.6,0.7,0.8,0.9,1,1.1,1.2,1.3,1.4,1.5,1.7,1.9,2,2.2,2.4,2.6,2.8,3,3.3,3.6,4,4.3,4.6,5,7.2,13,14],"s":[1,0.96,0.93,0.9,0.88,0.86,0.84,0.82,0.8,0.76,0.71,0.66,0.62,0.59,0.57,0.55,0.53,0.51,0.5,0.48,0.46,0.44,0.4,0.36,0.35,0.33,0.3,0.26,0.25,0.23,0.17,0.085,0.01]},{"k":"L-TMB","t":[0,0.1,0.2,0.3,0.4,0.5,0.6,0.7,0.8,0.9,1,1.1,1.2,1.3,1.4,1.5,1.6,1.7,1.8,1.9,2,2.2,2.4,2.6,2.8,3,3.2,3.5,3.8,4.3,4.7,5.5,6,7.5,7.6,8.3,12.9,13.2,15.1],"s":[1,0.98,0.96,0.95,0.94,0.93,0.92,0.9,0.88,0.86,0.85,0.83,0.81,0.79,0.76,0.73,0.71,0.7,0.68,0.67,0.66,0.64,0.63,0.62,0.6,0.59,0.58,0.57,0.56,0.55,0.52,0.5,0.47,0.45,0.41,0.35,0.26,0.17,0.17]}]},"transform":[{"flatten":["t","s"]}],"mark":{"type":"line","interpolate":"step-after","strokeWidth":1},"encoding":{"x":{"field":"t","type":"quantitative","scale":{"domain":[-0.725,15.6],"nice":false,"range":[37,172]},"axis":{"orient":"bottom","offset":-57,"title":"Time(years)","titleFontSize":5,"titleFontWeight":"normal","titlePadding":1,"labelFontSize":4.5,"values":[0,1,2,3,4,5,6,7,8,9,10,11,12,13,14,15],"tickSize":2,"labelPadding":1,"domainColor":"#444","tickColor":"#444"}},"y":{"field":"s","type":"quantitative","scale":{"domain":[-0.05,1.059],"nice":false,"range":[601,513]},"axis":{"orient":"left","offset":-37,"title":"Survival probability","titleFontSize":5,"titleFontWeight":"normal","titlePadding":6,"labelFontSize":4.5,"values":[0,0.25,0.5,0.75,1],"format":".2f","tickSize":2,"labelPadding":1,"domainColor":"#444","tickColor":"#444"}},"color":{"field":"k","type":"nominal","scale":{"domain":["H-TMB","L-TMB"],"range":["#E0282E","#3B62C4"]},"legend":{"orient":"none","legendX":137,"legendY":527,"title":null,"labelFontSize":4.5,"symbolType":"stroke","symbolSize":30,"rowPadding":2,"labelOffset":2}}}},
 {"data":{"values":[{"k":"H-TMB","t":[6.5,12],"s":[0.23,0.17]},{"k":"L-TMB","t":[4.2,4.5,5,6.5,7,11,14.5],"s":[0.55,0.55,0.52,0.47,0.47,0.35,0.17]}]},"transform":[{"flatten":["t","s"]}],"mark":{"type":"point","shape":"cross","filled":true,"size":6,"opacity":1},"encoding":{"x":{"field":"t","type":"quantitative"},"y":{"field":"s","type":"quantitative"},"color":{"field":"k","type":"nominal"}}},
 {"data":{"values":[{"d":"h","t":0,"s":0.5},{"d":"h","t":5.6,"s":0.5},{"d":"a","t":2,"s":0},{"d":"a","t":2,"s":0.5},{"d":"b","t":5.6,"s":0},{"d":"b","t":5.6,"s":0.5}]},"mark":{"type":"line","color":"#111","strokeWidth":0.7,"strokeDash":[2,1.5]},"encoding":{"x":{"field":"t","type":"quantitative"},"y":{"field":"s","type":"quantitative"},"detail":{"field":"d"}}},
 {"data":{"values":[{"t":1.5,"s":0.19,"l":"p<0.001"}]},"mark":{"type":"text","fontSize":6.5,"color":"#222"},"encoding":{"x":{"field":"t","type":"quantitative"},"y":{"field":"s","type":"quantitative"},"text":{"field":"l"}}},
 {"data":{"values":[{"l":"E"}]},"mark":{"type":"text","fontSize":16,"fontWeight":"bold","color":"#000"},"encoding":{"x":{"datum":-4.11},"y":{"datum":1.298},"text":{"field":"l"}}}
]},
{"layer":[
 {"data":{"values":[{"k":"H-TMB","t":[0,1,2,3,4,5,6,7,8,9,10,11,12,13,14,15],"n":[89,56,32,21,10,5,5,4,3,3,3,3,2,2,1,0]},{"k":"L-TMB","t":[0,1,2,3,4,5,6,7,8,9,10,11,12,13,14,15],"n":[203,160,100,60,42,25,15,10,7,6,5,4,4,3,2,1]}]},"transform":[{"flatten":["t","n"]}],
 "mark":{"type":"text","fontSize":4.5,"color":"#333"},"encoding":{"x":{"field":"t","type":"quantitative","scale":{"domain":[-0.725,15.6],"nice":false,"range":[37,172]},"axis":{"orient":"bottom","offset":-23,"title":"Time(years)","titleFontSize":5,"titleFontWeight":"normal","titlePadding":1,"labelFontSize":4.5,"values":[0,1,2,3,4,5,6,7,8,9,10,11,12,13,14,15],"tickSize":2,"labelPadding":1,"domainColor":"#444","tickColor":"#444"}},"y":{"field":"k","type":"nominal","scale":{"domain":["H-TMB","L-TMB"],"range":[624,635]},"axis":{"orient":"left","offset":-37,"title":null,"labelFontSize":4.5,"ticks":false,"labelPadding":2,"labelColor":{"expr":"datum.label=='H-TMB'?'#E0282E':'#3B62C4'"},"domainColor":"#444"}},"text":{"field":"n"}}},
 {"data":{"values":[{"l":"Number at risk"}]},"mark":{"type":"text","align":"left","fontSize":7,"color":"#222","dy":-8},"encoding":{"x":{"datum":-0.725},"y":{"datum":"H-TMB"},"text":{"field":"l"}}}
]},
{"layer":[
 {"data":{"values":[{"k":"H-TMB+H-m5Cscore","t":[0,0.2,0.4,0.7,1,1.2,1.5,1.8,2.5,2.8,3,3.2,3.5,4.3,4.9,7.3,11.8],"s":[1,0.93,0.85,0.72,0.6,0.5,0.44,0.38,0.36,0.33,0.28,0.24,0.22,0.17,0.12,0.06,0.06]},{"k":"H-TMB+L-m5Cscore","t":[0,0.4,0.8,1.1,1.5,2.3,2.5,3.2,4,4.1,12.9,14,14],"s":[1,0.97,0.9,0.78,0.7,0.65,0.58,0.49,0.48,0.41,0.2,0.01,0.01]},{"k":"L-TMB+H-m5Cscore","t":[0,0.4,0.8,1.2,1.6,2.3,3,5.4,6,6.2,7.5,14.3],"s":[1,0.95,0.9,0.75,0.68,0.6,0.5,0.48,0.42,0.38,0.25,0.25]},{"k":"L-TMB+L-m5Cscore","t":[0,0.5,1,1.5,2,2.5,3.2,4.8,8.3,12.8,13.1,13.5,15.2],"s":[1,0.93,0.8,0.72,0.68,0.66,0.64,0.55,0.45,0.43,0.3,0.15,0.15]}]},"transform":[{"flatten":["t","s"]}],"mark":{"type":"line","interpolate":"step-after","strokeWidth":1},"encoding":{"x":{"field":"t","type":"quantitative","scale":{"domain":[-0.76,15.54],"nice":false,"range":[240,383]},"axis":{"orient":"bottom","offset":-53,"title":"Time(years)","titleFontSize":5,"titleFontWeight":"normal","titlePadding":1,"labelFontSize":4.5,"values":[0,1,2,3,4,5,6,7,8,9,10,11,12,13,14,15],"tickSize":2,"labelPadding":1,"domainColor":"#444","tickColor":"#444"}},"y":{"field":"s","type":"quantitative","scale":{"domain":[-0.043,1.043],"nice":false,"range":[605,504]},"axis":{"orient":"left","offset":-240,"title":"Survival probability","titleFontSize":4.5,"titleFontWeight":"normal","titlePadding":8,"labelFontSize":4.5,"values":[0,0.25,0.5,0.75,1],"format":".2f","tickSize":2,"labelPadding":1,"domainColor":"#444","tickColor":"#444"}},"color":{"field":"k","type":"nominal","scale":{"domain":["H-TMB+H-m5Cscore","H-TMB+L-m5Cscore","L-TMB+H-m5Cscore","L-TMB+L-m5Cscore"],"range":["#E0282E","#4A63BE","#7A5FA5","#85C75F"]},"legend":{"orient":"none","legendX":337,"legendY":514,"title":null,"labelFontSize":3.8,"symbolType":"stroke","symbolSize":30,"rowPadding":1.5,"labelOffset":2}}}},
 {"data":{"values":[{"d":"h","t":0,"s":0.5},{"d":"h","t":8.3,"s":0.5},{"d":"a","t":1.3,"s":0},{"d":"a","t":1.3,"s":0.5},{"d":"b","t":3.1,"s":0},{"d":"b","t":3.1,"s":0.5},{"d":"c","t":3.35,"s":0},{"d":"c","t":3.35,"s":0.5},{"d":"e","t":8.3,"s":0},{"d":"e","t":8.3,"s":0.5}]},"mark":{"type":"line","color":"#111","strokeWidth":0.7,"strokeDash":[2,1.5]},"encoding":{"x":{"field":"t","type":"quantitative"},"y":{"field":"s","type":"quantitative"},"detail":{"field":"d"}}},
 {"data":{"values":[{"t":1.5,"s":0.19,"l":"p<0.001"}]},"mark":{"type":"text","fontSize":6.5,"color":"#222"},"encoding":{"x":{"field":"t","type":"quantitative"},"y":{"field":"s","type":"quantitative"},"text":{"field":"l"}}},
 {"data":{"values":[{"l":"F"}]},"mark":{"type":"text","fontSize":16,"fontWeight":"bold","color":"#000"},"encoding":{"x":{"datum":-5.49},"y":{"datum":1.176},"text":{"field":"l"}}}
]},
{"layer":[
 {"data":{"values":[{"k":"H-TMB+H-m5Cscore","t":[0,1,2,3,4,5,6,7,8,9,10,11,12,13,14,15],"n":[51,30,15,9,5,2,2,2,1,1,1,1,0,0,0,0]},{"k":"H-TMB+L-m5Cscore","t":[0,1,2,3,4,5,6,7,8,9,10,11,12,13,14,15],"n":[38,26,17,12,5,3,3,2,2,2,2,2,2,2,1,0]},{"k":"L-TMB+H-m5Cscore","t":[0,1,2,3,4,5,6,7,8,9,10,11,12,13,14,15],"n":[102,66,45,22,16,13,6,3,2,2,1,1,1,1,1,0]},{"k":"L-TMB+L-m5Cscore","t":[0,1,2,3,4,5,6,7,8,9,10,11,12,13,14,15],"n":[101,68,52,33,23,13,9,7,5,4,4,3,3,2,1,1]}]},"transform":[{"flatten":["t","n"]}],
 "mark":{"type":"text","fontSize":4,"color":"#333"},"encoding":{"x":{"field":"t","type":"quantitative","scale":{"domain":[-0.76,15.54],"nice":false,"range":[240,383]},"axis":{"orient":"bottom","offset":-13,"title":"Time(years)","titleFontSize":4.5,"titleFontWeight":"normal","titlePadding":-1,"labelFontSize":4,"values":[0,1,2,3,4,5,6,7,8,9,10,11,12,13,14,15],"tickSize":1.5,"labelPadding":0.5,"domainColor":"#444","tickColor":"#444"}},"y":{"field":"k","type":"nominal","scale":{"domain":["H-TMB+H-m5Cscore","H-TMB+L-m5Cscore","L-TMB+H-m5Cscore","L-TMB+L-m5Cscore"],"range":[628.7,645]},"axis":{"orient":"left","offset":-240,"title":null,"labelFontSize":4.3,"ticks":false,"labelPadding":1,"labelColor":{"expr":"datum.label=='H-TMB+H-m5Cscore'?'#E0282E':datum.label=='H-TMB+L-m5Cscore'?'#4A63BE':datum.label=='L-TMB+H-m5Cscore'?'#7A5FA5':'#85C75F'"},"domainColor":"#444"}},"text":{"field":"n"}}},
 {"data":{"values":[{"l":"Number at risk"}]},"mark":{"type":"text","align":"left","fontSize":7,"color":"#222","dy":-8},"encoding":{"x":{"datum":-0.76},"y":{"datum":"H-TMB+H-m5Cscore"},"text":{"field":"l"}}}
]},
{"layer":[
 {"data":{"name":"corr"},"transform":[{"flatten":["c","v"]}],"mark":{"type":"rect","fill":"white","stroke":"#d4d4d4","strokeWidth":0.5},"encoding":{"x":{"field":"c","type":"ordinal","scale":{"domain":[0,1,2,3,4,5,6,7,8,9,10,11,12,13,14,15,16,17],"range":[462.7,653.7],"paddingInner":0,"paddingOuter":0},"axis":null},"y":{"field":"r","type":"ordinal","scale":{"domain":[0,1,2,3,4,5,6,7,8,9,10,11,12,13,14,15,16,17],"range":[404.8,591.8],"paddingInner":0,"paddingOuter":0},"axis":null}}},
 {"data":{"name":"corr"},"transform":[{"flatten":["c","v"]}],"mark":{"type":"point","filled":true,"opacity":1},"encoding":{"x":{"field":"c","type":"ordinal"},"y":{"field":"r","type":"ordinal"},"color":{"field":"v","type":"quantitative","scale":{"domain":[-1,0,1],"range":["#2B4C9B","#FFFFFF","#CB1F25"]},"legend":null},"size":{"field":"v","type":"quantitative","scale":{"domain":[-1,0,1],"range":[95,0,95]},"legend":null}}},
 {"data":{"name":"corr"},"transform":[{"flatten":["c","v"]},{"filter":"abs(datum.v)>=0.1"}],"mark":{"type":"text","text":"★","fontSize":3.5,"color":"#111"},"encoding":{"x":{"field":"c","type":"ordinal"},"y":{"field":"r","type":"ordinal"}}},
 {"data":{"name":"corrNames"},"mark":{"type":"text","align":"right","dx":-8,"fontSize":5.3,"color":"#222"},"encoding":{"x":{"field":"i","type":"ordinal"},"y":{"field":"i","type":"ordinal"},"text":{"field":"n"}}},
 {"data":{"name":"corrNames"},"mark":{"type":"text","align":"left","baseline":"middle","angle":270,"dy":-8,"fontSize":5.3,"color":"#222"},"encoding":{"x":{"field":"i","type":"ordinal"},"y":{"datum":0,"type":"ordinal"},"text":{"field":"n"}}},
 {"data":{"values":[{"l":"G"}]},"mark":{"type":"text","fontSize":16,"fontWeight":"bold","color":"#000","dx":-29,"dy":-83},"encoding":{"x":{"datum":0,"type":"ordinal"},"y":{"datum":0,"type":"ordinal"},"text":{"field":"l"}}}
]},
{"data":{"values":[{"k":"r","a":[-1,-0.975,-0.95,-0.925,-0.9,-0.875,-0.85,-0.825,-0.8,-0.775,-0.75,-0.725,-0.7,-0.675,-0.65,-0.625,-0.6,-0.575,-0.55,-0.525,-0.5,-0.475,-0.45,-0.425,-0.4,-0.375,-0.35,-0.325,-0.3,-0.275,-0.25,-0.225,-0.2,-0.175,-0.15,-0.125,-0.1,-0.075,-0.05,-0.025,0,0.025,0.05,0.075,0.1,0.125,0.15,0.175,0.2,0.225,0.25,0.275,0.3,0.325,0.35,0.375,0.4,0.425,0.45,0.475,0.5,0.525,0.55,0.575,0.6,0.625,0.65,0.675,0.7,0.725,0.75,0.775,0.8,0.825,0.85,0.875,0.9,0.925,0.95,0.975,1]}]},"transform":[{"flatten":["a"]}],"mark":{"type":"tick","orient":"horizontal","size":7,"thickness":2.6,"opacity":1},"encoding":{"x":{"field":"k","type":"nominal","scale":{"range":[657,664],"paddingInner":0,"paddingOuter":0},"axis":null},"y":{"field":"a","type":"quantitative","scale":{"domain":[-1,1],"nice":false,"range":[592,405]},"axis":{"orient":"right","offset":-44,"title":null,"values":[-1,-0.8,-0.6,-0.4,-0.2,0,0.2,0.4,0.6,0.8,1],"format":"~g","labelFontSize":5,"tickSize":2,"domain":false,"tickColor":"#555","labelPadding":2,"labelColor":"#222"}},"color":{"field":"a","type":"quantitative","scale":{"domain":[-1,0,1],"range":["#2B4C9B","#FFFFFF","#CB1F25"]},"legend":null}}}
]}
